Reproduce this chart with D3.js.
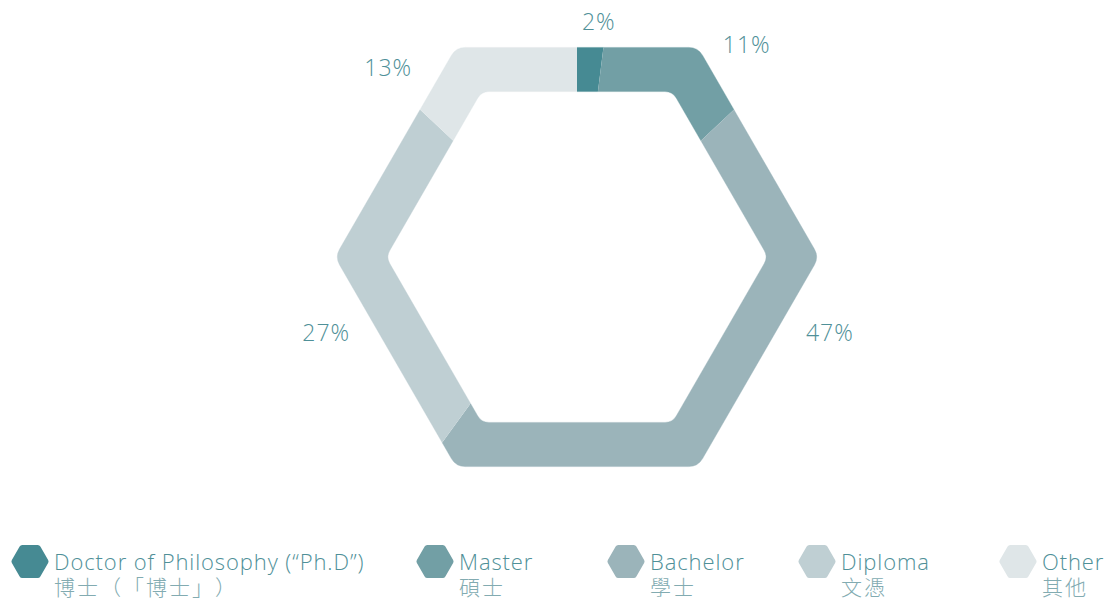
<!DOCTYPE html>
<html>
<head>
<meta charset="utf-8">
<script src="https://cdn.jsdelivr.net/npm/d3@7"></script>
<style>
  html, body { margin: 0; padding: 0; background: #fff; }
  svg { display: block; }
  text { font-family: "Open Sans", Roboto, sans-serif; font-weight: 300; }
  .zh { font-family: "Noto Sans CJK TC", "Noto Sans CJK SC", sans-serif; font-weight: 300; }
</style>
</head>
<body>
<svg id="viz"></svg>
<script>
// ----------------------------------------------------------------------------------------------------------------
// DATA

var categories = ["Doctor of Philosophy (\u201cPh.D\u201d)", "Master", "Bachelor", "Diploma", "Other"];
var categoriesZh = ["博士（「博士」）", "碩士", "學士", "文憑", "其他"];
var shares = [2, 11, 47, 27, 13];

// ----------------------------------------------------------------------------------------------------------------
// INITIAL SETUP

var w = 1104;
var h = 600;
var viz = d3.select("#viz").attr("width", w).attr("height", h);

var colors = ["#468a93", "#729fa5", "#9bb4ba", "#bfcfd3", "#dfe6e8"];
var textColor = "#4f9098";
var zhColor = "#82abb1";

var cx = 577, cy = 257;
var outerR = 242, innerR = 191;

// rounded hexagon, vertices pointing left and right
function hexPath(path, x, y, r, round) {
  var pts = d3.range(6).map(function(i) {
    var a = Math.PI / 2 + i * Math.PI / 3;
    return [x + r * Math.sin(a), y - r * Math.cos(a)];
  });
  var m0 = [(pts[5][0] + pts[0][0]) / 2, (pts[5][1] + pts[0][1]) / 2];
  path.moveTo(m0[0], m0[1]);
  for (var i = 0; i < 6; i++) {
    var p = pts[i], n = pts[(i + 1) % 6];
    path.arcTo(p[0], p[1], n[0], n[1], round);
  }
  path.closePath();
  return path;
}

// ----------------------------------------------------------------------------------------------------------------
// CHART

var pie = d3.pie().sort(null).value(function(d) { return d; });
var slices = pie(shares);

var wedge = d3.arc().innerRadius(0).outerRadius(400);

var ring = d3.path();
hexPath(ring, cx, cy, outerR, 16);
hexPath(ring, cx, cy, innerR, 13);
var ringD = ring.toString();

var defs = viz.append("defs");
defs.selectAll("clipPath")
  .data(slices)
  .enter()
  .append("clipPath")
  .attr("id", function(d, i) { return "wedge" + i; })
  .append("path")
  .attr("transform", "translate(" + cx + "," + cy + ")")
  .attr("d", wedge);

viz.selectAll("path.seg")
  .data(slices)
  .enter()
  .append("path")
  .attr("class", "seg")
  .attr("d", ringD)
  .attr("fill-rule", "evenodd")
  .attr("fill", function(d, i) { return colors[i]; })
  .attr("stroke", function(d, i) { return colors[i]; })
  .attr("stroke-width", 0.4)
  .attr("clip-path", function(d, i) { return "url(#wedge" + i + ")"; });

// percentage labels (angle in degrees clockwise from top, distance from centre)
var labelPlace = [[5.3, 236], [38.6, 272], [106.7, 264], [253.2, 262], [315, 267]];

viz.selectAll("text.pct")
  .data(slices)
  .enter()
  .append("text")
  .attr("class", "pct")
  .attr("x", function(d, i) { return cx + labelPlace[i][1] * Math.sin(labelPlace[i][0] * Math.PI / 180); })
  .attr("y", function(d, i) { return cy - labelPlace[i][1] * Math.cos(labelPlace[i][0] * Math.PI / 180); })
  .attr("dy", "0.36em")
  .attr("text-anchor", "middle")
  .attr("font-size", 23)
  .attr("letter-spacing", 1)
  .attr("fill", textColor)
  .text(function(d) { return d.data + "%"; });

// ----------------------------------------------------------------------------------------------------------------
// LEGEND

var legendX = [11, 416, 607, 798, 999];

var legend = viz.selectAll("g.legend")
  .data(categories)
  .enter()
  .append("g")
  .attr("class", "legend")
  .attr("transform", function(d, i) { return "translate(" + legendX[i] + ",0)"; });

legend.append("path")
  .attr("d", function(d, i) { return hexPath(d3.path(), 19, 561.5, 19, 3).toString(); })
  .attr("fill", function(d, i) { return colors[i]; });

legend.append("text")
  .attr("x", 43)
  .attr("y", 570)
  .attr("font-size", 22)
  .attr("letter-spacing", 0.9)
  .attr("fill", textColor)
  .text(function(d) { return d; });

// chinese names: one full-width cell per character
legend.append("text")
  .attr("class", "zh")
  .attr("y", 595)
  .attr("font-size", 21)
  .attr("fill", zhColor)
  .selectAll("tspan")
  .data(function(d, i) { return Array.from(categoriesZh[i]); })
  .enter()
  .append("tspan")
  .attr("x", function(c, j) { return 43 + j * 23; })
  .text(function(c) { return c; });
</script>
</body>
</html>
